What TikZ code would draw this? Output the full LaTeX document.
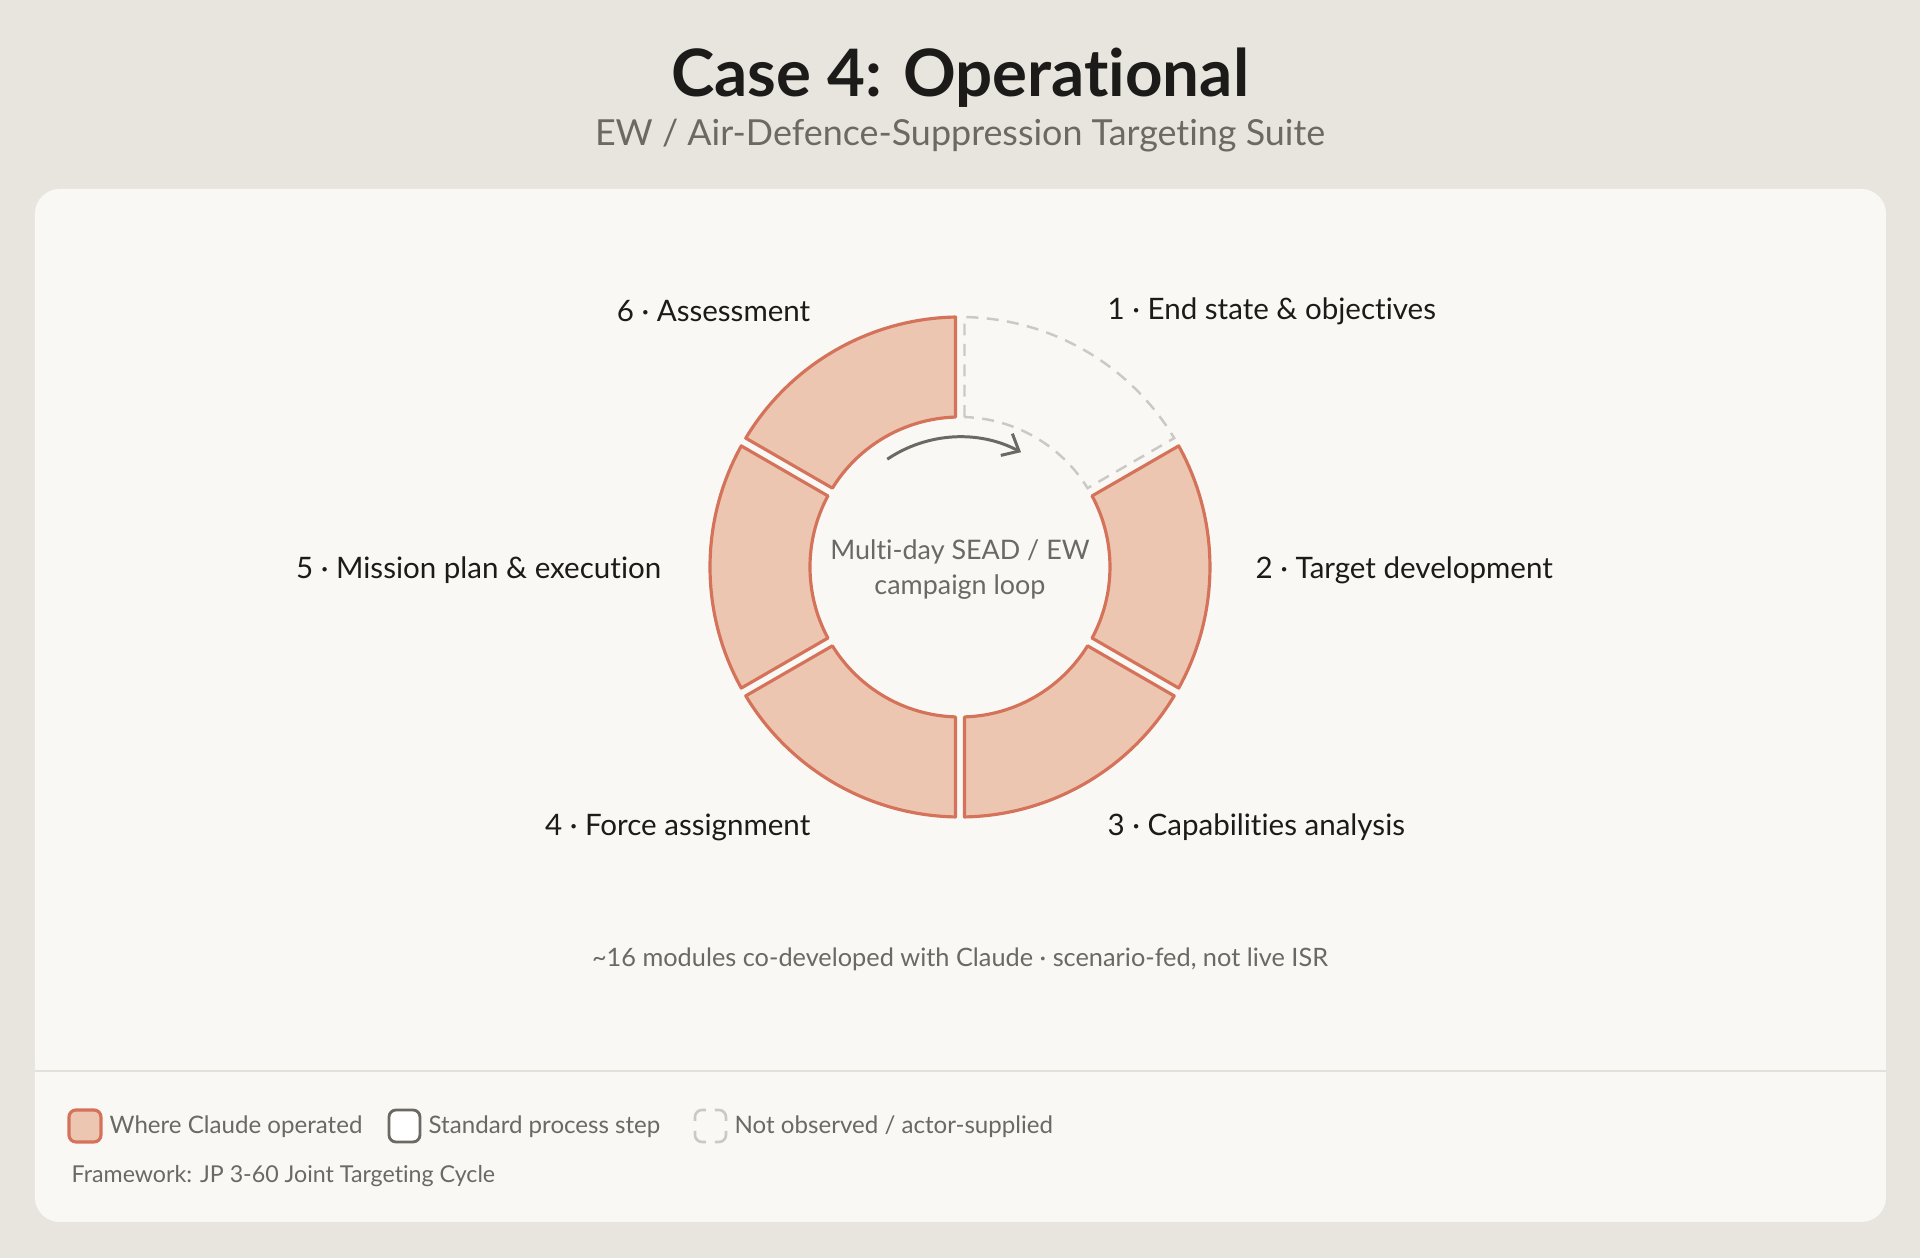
\documentclass[tikz,border=0pt]{standalone}
\usepackage{fontspec}
\setmainfont{Lato}[Ligatures=NoCommon]
\usetikzlibrary{arrows.meta}
\definecolor{pagebg}{HTML}{E8E5DF}
\definecolor{panelbg}{HTML}{F9F8F5}
\definecolor{segfill}{HTML}{EDC6B2}
\definecolor{segline}{HTML}{D4735A}
\definecolor{notseen}{HTML}{CBC9C4}
\definecolor{inkdark}{HTML}{1C1B19}
\definecolor{inkgrey}{HTML}{6C6862}
\definecolor{rulegrey}{HTML}{E4E1DB}
\begin{document}
\begin{tikzpicture}[x=0.01cm, y=0.01cm]
\tikzstyle{every node}+=[inner sep=0pt]
\tikzstyle{seg}=[draw=segline, fill=segfill, line width=0.9pt, line join=round]
\tikzstyle{segout}=[draw=notseen, line width=0.7pt, dash pattern=on 3.4pt off 2.4pt]
\tikzstyle{keyout}=[draw=notseen, line width=0.75pt, rounded corners=2pt]
\tikzstyle{steplabel}=[text=inkdark, font=\fontsize{8.4}{10}\selectfont]
\tikzstyle{keytext}=[text=inkgrey, font=\fontsize{6.85}{9}\selectfont, anchor=west]
\useasboundingbox (-960,-691) rectangle (960,567);
\fill [pagebg] (-960,-691) rectangle (960,567);
\fill [panelbg, rounded corners=7pt] (-925,-655) rectangle (926,378);
\draw [rulegrey, line width=0.6pt] (-925,-504) -- (926,-504);
\node (title) at (0,489) [text=inkdark, font=\fontsize{18.6}{22}\selectfont\bfseries] {Case 4: Operational};
\node (subtitle) at (0,431) [text=inkgrey, font=\fontsize{10.2}{12}\selectfont] {EW / Air-Defence-Suppression Targeting Suite};
\draw [segout] (88.28:150) -- (88.97:250) arc [start angle=88.97, end angle=31.03, radius=250] -- (31.72:150) arc [start angle=31.72, end angle=88.28, radius=150] -- cycle;
\draw [seg] (28.28:150) -- (28.97:250) arc [start angle=28.97, end angle=-28.97, radius=250] -- (-28.28:150) arc [start angle=-28.28, end angle=28.28, radius=150] -- cycle;
\draw [seg] (-31.72:150) -- (-31.03:250) arc [start angle=-31.03, end angle=-88.97, radius=250] -- (-88.28:150) arc [start angle=-88.28, end angle=-31.72, radius=150] -- cycle;
\draw [seg] (-91.72:150) -- (-91.03:250) arc [start angle=-91.03, end angle=-148.97, radius=250] -- (-148.28:150) arc [start angle=-148.28, end angle=-91.72, radius=150] -- cycle;
\draw [seg] (-151.72:150) -- (-151.03:250) arc [start angle=-151.03, end angle=-208.97, radius=250] -- (-208.28:150) arc [start angle=-208.28, end angle=-151.72, radius=150] -- cycle;
\draw [seg] (148.28:150) -- (148.97:250) arc [start angle=148.97, end angle=91.03, radius=250] -- (91.72:150) arc [start angle=91.72, end angle=148.28, radius=150] -- cycle;
\draw [inkgrey, line width=0.85pt, -{Straight Barb[length=4pt, width=7pt]}] (124:130) arc [start angle=124, end angle=62, radius=130];
\node (loop1) at (0,15) [text=inkgrey, font=\fontsize{7.65}{10}\selectfont] {Multi-day SEAD / EW};
\node (loop2) at (0,-20) [text=inkgrey, font=\fontsize{7.65}{10}\selectfont] {campaign loop};
\node (s1) at (147,256) [steplabel, anchor=west] {1 · End state \& objectives};
\node (s2) at (295,-3) [steplabel, anchor=west] {2 · Target development};
\node (s3) at (147,-260) [steplabel, anchor=west] {3 · Capabilities analysis};
\node (s4) at (-149,-260) [steplabel, anchor=east] {4 · Force assignment};
\node (s5) at (-298,-3) [steplabel, anchor=east] {5 · Mission plan \& execution};
\node (s6) at (-149,256) [steplabel, anchor=east] {6 · Assessment};
\node (note) at (0,-392) [text=inkgrey, font=\fontsize{7.2}{9}\selectfont] {\textasciitilde16 modules co-developed with Claude · scenario-fed, not live ISR};
\draw [seg, rounded corners=2pt] (-891,-575) rectangle (-859,-543);
\node (k1) at (-851,-560) [keytext] {Where Claude operated};
\draw [draw=inkgrey, line width=0.8pt, fill=white, rounded corners=2pt] (-571,-575) rectangle (-540,-543);
\node (k2) at (-532,-560) [keytext] {Standard process step};
\draw [keyout] (-265,-564) -- (-265,-575) -- (-254,-575);
\draw [keyout] (-245,-575) -- (-234,-575) -- (-234,-564);
\draw [keyout] (-234,-554) -- (-234,-543) -- (-245,-543);
\draw [keyout] (-254,-543) -- (-265,-543) -- (-265,-554);
\node (k3) at (-226,-560) [keytext] {Not observed / actor-supplied};
\node (frame) at (-889,-609) [keytext, font=\fontsize{6.6}{8}\selectfont] {Framework: JP 3-60 Joint Targeting Cycle};
\end{tikzpicture}
\end{document}
